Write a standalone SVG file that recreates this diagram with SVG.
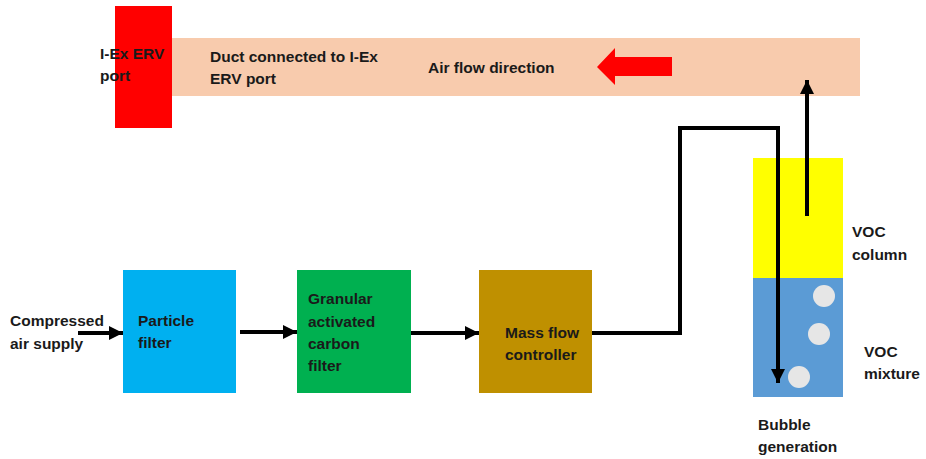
<svg xmlns="http://www.w3.org/2000/svg" width="926" height="459" viewBox="0 0 926 459">
<defs>
<style>
text{font-family:"Liberation Sans",Arial,sans-serif;font-weight:bold;font-size:15.5px;fill:#1a1a1a}
.ln{fill:none;stroke:#000;stroke-width:4}
</style>
<marker id="ah" viewBox="0 0 10 10" refX="10" refY="5" markerWidth="3.5" markerHeight="3.5" orient="auto" markerUnits="strokeWidth">
<path d="M0,0L10,5L0,10z" fill="#000"/>
</marker>
</defs>
<rect width="926" height="459" fill="#fff"/>
<g id="duct">
<rect x="172" y="38" width="688" height="58" fill="#f8cbad"/>
<text x="210" y="62">Duct connected to I-Ex</text>
<text x="210" y="84">ERV port</text>
<text x="428" y="73">Air flow direction</text>
<path d="M597,67L615,48L615,57L672,57L672,76L615,76L615,85Z" fill="#ff0000"/>
</g>
<g id="erv-port">
<rect x="115" y="6" width="57" height="122" fill="#ff0000"/>
<text x="100" y="59">I-Ex ERV</text>
<text x="100" y="81">port</text>
</g>
<g id="particle-filter">
<rect x="123" y="270" width="113" height="123" fill="#00b0f0"/>
<text x="138" y="326">Particle</text>
<text x="138" y="348">filter</text>
</g>
<g id="gac-filter">
<rect x="297" y="270" width="114" height="123" fill="#00b050"/>
<text x="308" y="304">Granular</text>
<text x="308" y="327">activated</text>
<text x="308" y="349">carbon</text>
<text x="308" y="371">filter</text>
</g>
<g id="mfc">
<rect x="479" y="270" width="113" height="123" fill="#bf9000"/>
<text x="505" y="338">Mass flow</text>
<text x="505" y="360">controller</text>
</g>
<g id="voc-vessel">
<rect x="753" y="158" width="90" height="120" fill="#ffff00"/>
<rect x="753" y="278" width="90" height="119" fill="#5b9bd5"/>
<circle cx="824" cy="296" r="11" fill="#e6e6e6"/>
<circle cx="819" cy="334" r="11" fill="#e6e6e6"/>
<circle cx="799" cy="377" r="11" fill="#e6e6e6"/>
<text x="852" y="237">VOC</text>
<text x="852" y="260">column</text>
<text x="864" y="357">VOC</text>
<text x="864" y="379">mixture</text>
</g>
<g id="labels">
<text x="10" y="326">Compressed</text>
<text x="10" y="349">air supply</text>
<text x="758" y="430">Bubble</text>
<text x="758" y="452">generation</text>
</g>
<g id="connectors">
<line class="ln" x1="78" y1="333" x2="123" y2="333" marker-end="url(#ah)"/>
<line class="ln" x1="240" y1="332" x2="297" y2="332" marker-end="url(#ah)"/>
<line class="ln" x1="411" y1="333" x2="479" y2="333" marker-end="url(#ah)"/>
<path class="ln" d="M592,333L680,333L680,128L778,128L778,383" marker-end="url(#ah)"/>
<line class="ln" x1="807" y1="216" x2="807" y2="80" marker-end="url(#ah)"/>
</g>
</svg>
